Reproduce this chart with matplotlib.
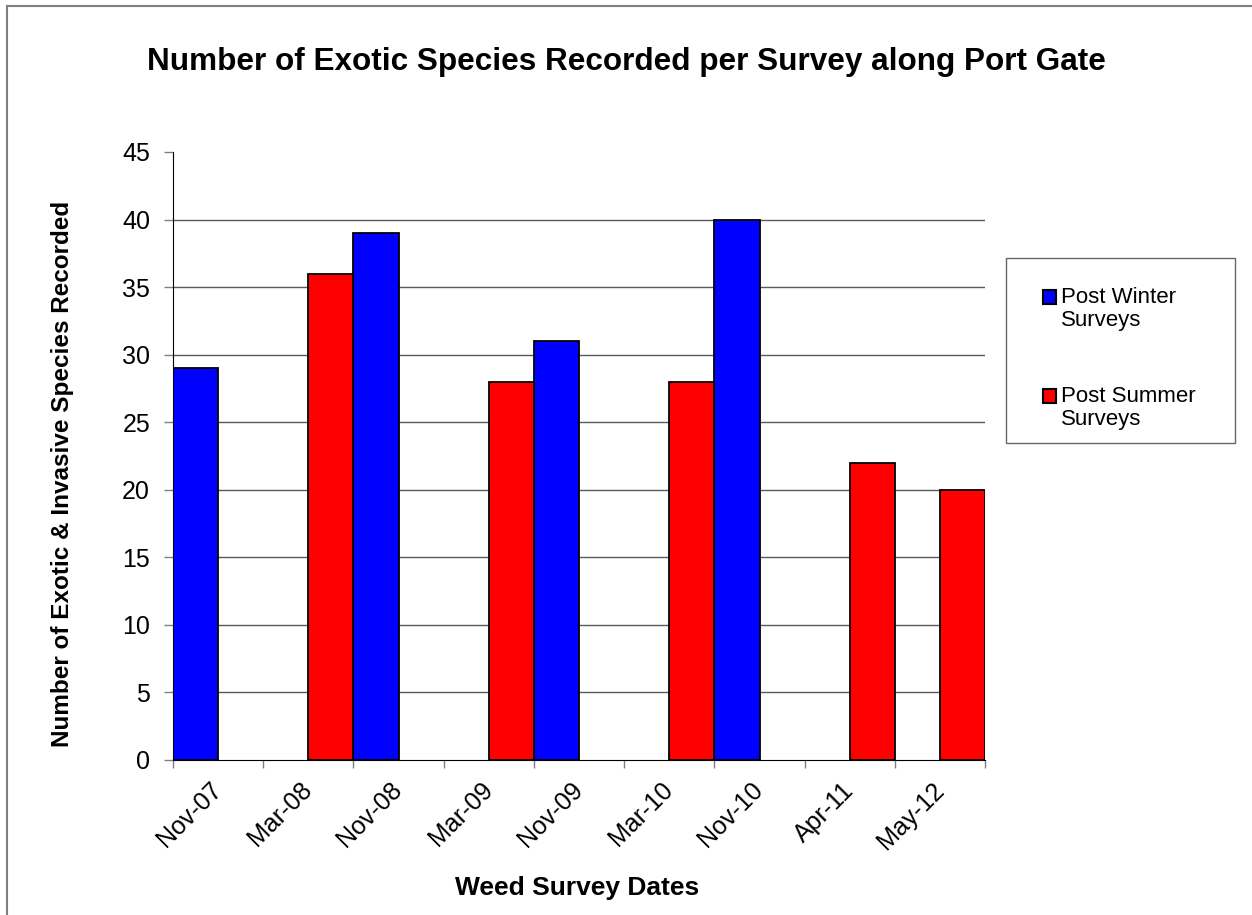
import numpy as np
import matplotlib.pyplot as plt
from matplotlib.lines import Line2D
from matplotlib.patches import Rectangle
from matplotlib.ticker import FixedLocator, MultipleLocator

plt.rcParams['font.family'] = ['Liberation Sans', 'DejaVu Sans']

# survey dates and species counts per season
dates = ['Nov-07', 'Mar-08', 'Nov-08', 'Mar-09', 'Nov-09',
         'Mar-10', 'Nov-10', 'Apr-11', 'May-12']
winter = [29, None, 39, None, 31, None, 40, None, None]
summer = [None, 36, None, 28, None, 28, None, 22, 20]
series_names = ['Post Winter\nSurveys', 'Post Summer\nSurveys']
series_colors = ['#0000ff', '#ff0000']

winter_vals = np.array([np.nan if v is None else v for v in winter], dtype=float)
summer_vals = np.array([np.nan if v is None else v for v in summer], dtype=float)
x = np.arange(len(dates))

fig = plt.figure(figsize=(12.52, 9.15), dpi=100, facecolor='white')
ax = fig.add_axes([0.1382, 0.1694, 0.6486, 0.6645])

bw = 0.5
ax.bar(x - bw, winter_vals, width=bw, align='edge', color=series_colors[0],
       edgecolor='black', linewidth=1.3, zorder=3)
ax.bar(x, summer_vals, width=bw, align='edge', color=series_colors[1],
       edgecolor='black', linewidth=1.3, zorder=3)

ax.set_xlim(-0.5, len(dates) - 0.5)
ax.set_ylim(0, 45)
ax.yaxis.set_major_locator(MultipleLocator(5))

# gridlines everywhere except the top value
for yv in range(5, 45, 5):
    ax.axhline(yv, color='#5a5a5a', linewidth=1, zorder=1)

# labels at category centres, tick marks between categories
ax.set_xticks(x)
ax.set_xticklabels(dates, rotation=45, ha='right', va='center',
                   rotation_mode='anchor', fontsize=18)
ax.xaxis.set_minor_locator(FixedLocator(np.arange(-0.5, len(dates), 1.0)))
ax.tick_params(axis='x', which='major', length=0, pad=19)
ax.tick_params(axis='x', which='minor', length=6, width=1, color='#808080')
ax.tick_params(axis='y', length=6.5, width=1, color='#808080', labelsize=18, pad=10)

for s in ['top', 'right']:
    ax.spines[s].set_visible(False)
ax.spines['left'].set_color('black')
ax.spines['bottom'].set_color('black')
ax.spines['bottom'].set_zorder(4)

ax.set_xlabel('Weed Survey Dates', fontsize=19, fontweight='bold')
ax.xaxis.set_label_coords(0.498, -0.19)
ax.set_ylabel('Number of Exotic & Invasive Species Recorded', fontsize=17.5,
              fontweight='bold')
ax.yaxis.set_label_coords(-0.122, 0.47)
fig.text(0.5, 0.932, 'Number of Exotic Species Recorded per Survey along Port Gate',
         ha='center', va='center', fontsize=22.7, fontweight='bold')

# legend box with handles aligned to the first line of each label
W, H = 1252, 915
fig.add_artist(Rectangle((1006 / W, 1 - 443 / H), 229 / W, 185 / H, transform=fig.transFigure,
                         facecolor='white', edgecolor='#666666', linewidth=1))
for i, (name, col) in enumerate(zip(series_names, series_colors)):
    top = 290 + i * 99
    fig.add_artist(Rectangle((1043 / W, 1 - (top + 14) / H), 13 / W, 14 / H,
                             transform=fig.transFigure, facecolor=col,
                             edgecolor='black', linewidth=1.5))
    fig.text(1061 / W, 1 - (top - 3) / H, name, ha='left', va='top',
             fontsize=16, linespacing=1.15)

# outer chart border (top and left edges)
fig.add_artist(Line2D([0.0052, 1.0], [0.9929, 0.9929], transform=fig.transFigure,
                      color='#808080', linewidth=1.5))
fig.add_artist(Line2D([0.0052, 0.0052], [0.0, 0.9929], transform=fig.transFigure,
                      color='#808080', linewidth=1.5))

fig.savefig('out.png', dpi=100, facecolor='white')
